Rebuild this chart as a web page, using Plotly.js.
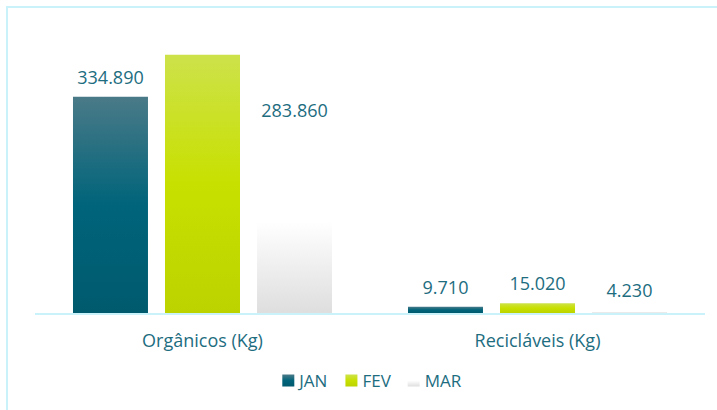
<!DOCTYPE html>
<html>
<head>
<meta charset="utf-8">
<script src="https://cdn.plot.ly/plotly-3.0.1.min.js"></script>
<style>
  html, body { margin: 0; padding: 0; background: #ffffff; }
  #wrap { position: relative; width: 717px; height: 410px; overflow: hidden; }
  #chart { position: absolute; left: 0; top: 0; width: 717px; height: 410px; }
  #frame { position: absolute; left: 6px; top: 6px; width: 800px; height: 500px;
           border-left: 2px solid #c9f2fa; border-top: 2px solid #c9f2fa; pointer-events: none; }
</style>
</head>
<body>
<div id="wrap">
  <div id="chart"></div>
  <div id="frame"></div>
</div>
<script>
// ---- data ----
const categories = ["Orgânicos (Kg)", "Recicláveis (Kg)"];
const seriesNames = ["JAN", "FEV", "MAR"];
const janValues = [334890, 9710];
const fevValues = [400000, 15020];
const marValues = [283860, 4230];

const seriesValues = [janValues, fevValues, marValues];
const baseColors = ["#00627a", "#c6dd00", "#ececec"];
const gradients = [
  [[0, "#4a7a88"], [0.5, "#00647a"], [1, "#005a6e"]],
  [[0, "#cde24a"], [0.5, "#c8e000"], [1, "#bcd300"]],
  [[0, "#ffffff"], [0.5, "#ffffff"], [1, "#dedede"]]
];
const textColor = "#1d6d7f";
const font = "'Open Sans', 'Noto Sans', sans-serif";

const traces = seriesNames.map((name, i) => ({
  type: "bar",
  name: name,
  x: categories,
  y: seriesValues[i],
  marker: { color: baseColors[i], line: { width: 0 } },
  texttemplate: "%{y:,.0f}",
  textposition: "outside",
  cliponaxis: true,
  constraintext: "none",
  textfont: { family: font, size: 18, color: textColor },
  hoverinfo: "none"
}));

const layout = {
  width: 717, height: 410,
  margin: { l: 35, r: 12, t: 50, b: 96 },
  paper_bgcolor: "rgba(0,0,0,0)",
  plot_bgcolor: "rgba(0,0,0,0)",
  separators: ",.",
  barmode: "group",
  bargap: 0.176,
  bargroupgap: 0.185,
  font: { family: font, size: 18, color: textColor },
  showlegend: true,
  legend: {
    orientation: "h", x: 0.5, xanchor: "center", y: -0.254, yanchor: "middle",
    font: { family: font, size: 17, color: textColor },
    itemwidth: 30, tracegroupgap: 0
  },
  xaxis: {
    showline: true, linecolor: "#c9f2fa", linewidth: 2,
    ticks: "", showgrid: false, zeroline: false,
    tickfont: { family: font, size: 18, color: textColor },
    ticklabelstandoff: 10,
    fixedrange: true
  },
  yaxis: {
    range: [0, 407400], visible: false, showgrid: false, zeroline: false, fixedrange: true
  }
};

Plotly.newPlot("chart", traces, layout, { displayModeBar: false, staticPlot: true }).then(gd => {
  const svgNS = "http://www.w3.org/2000/svg";
  const svg = gd.querySelector("svg.main-svg");
  let defs = svg.querySelector("defs");
  if (!defs) { defs = document.createElementNS(svgNS, "defs"); svg.insertBefore(defs, svg.firstChild); }
  gradients.forEach((stops, i) => {
    const lg = document.createElementNS(svgNS, "linearGradient");
    lg.setAttribute("id", "grad" + i);
    lg.setAttribute("x1", "0"); lg.setAttribute("y1", "0");
    lg.setAttribute("x2", "0"); lg.setAttribute("y2", "1");
    stops.forEach(s => {
      const st = document.createElementNS(svgNS, "stop");
      st.setAttribute("offset", s[0]);
      st.setAttribute("stop-color", s[1]);
      lg.appendChild(st);
    });
    defs.appendChild(lg);
  });
  const barTraces = gd.querySelectorAll(".barlayer .trace.bars");
  barTraces.forEach((g, i) => {
    g.querySelectorAll(".point path").forEach(p => { p.style.fill = "url(#grad" + i + ")"; });
    g.querySelectorAll("text.bartext").forEach(t => {
      const tr = t.getAttribute("transform") || "";
      t.setAttribute("transform", "translate(0,-5) " + tr);
    });
  });
  // tighten legend: smaller symbol-text gap and item spacing
  const legendItems = gd.querySelectorAll(".legend .traces");
  legendItems.forEach((g, i) => {
    g.querySelectorAll(".legendpoints path").forEach(p => { p.style.fill = "url(#grad" + i + ")"; });
    const tr = g.getAttribute("transform") || "";
    g.setAttribute("transform", tr + " translate(" + (-12 * i) + ",0)");
    g.querySelectorAll("text.legendtext").forEach(t => {
      const x = parseFloat(t.getAttribute("x") || "0");
      t.setAttribute("x", x - 9);
    });
  });
  // re-center legend under the plot
  const legend = gd.querySelector(".legend");
  if (legend) {
    const r = legend.querySelector(".scrollbox").getBoundingClientRect();
    let minX = Infinity, maxX = -Infinity;
    legendItems.forEach(g => {
      const b = g.getBoundingClientRect();
      minX = Math.min(minX, b.left); maxX = Math.max(maxX, b.right);
    });
    const pts = legendItems[0].querySelector(".legendpoints").getBoundingClientRect();
    const lastText = legendItems[legendItems.length - 1].querySelector("text.legendtext").getBoundingClientRect();
    const center = (pts.left + lastText.right) / 2;
    const plotCenter = 35 + (717 - 35 - 12) / 2;
    const dx = plotCenter + 2 - center;
    const tr = legend.getAttribute("transform") || "";
    legend.setAttribute("transform", tr + " translate(" + dx + ",0)");
  }
});
</script>
</body>
</html>
